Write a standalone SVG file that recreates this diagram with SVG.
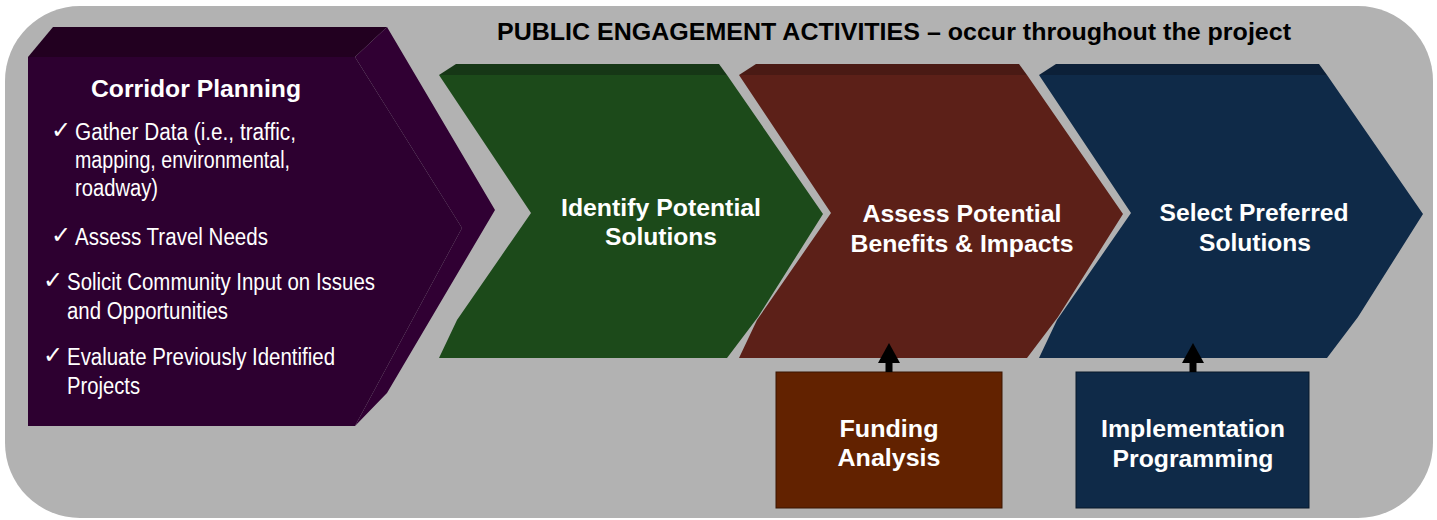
<svg xmlns="http://www.w3.org/2000/svg" width="1437" height="520" viewBox="0 0 1437 520">
<style>
.bold{font-family:"Liberation Sans",Arial,sans-serif;font-weight:bold;fill:#ffffff;font-size:24px}
.title{font-family:"Liberation Sans",Arial,sans-serif;font-weight:bold;fill:#000000;font-size:24px}
.reg{font-family:"Liberation Sans",Arial,sans-serif;fill:#ffffff;font-size:23px}
.chk{font-family:"DejaVu Sans",sans-serif;fill:#ffffff;font-size:24px}
</style>
<defs>
<marker id="head" markerUnits="userSpaceOnUse" markerWidth="20" markerHeight="22" viewBox="0 0 20 22" refX="0" refY="11" orient="auto">
<path d="M0,0 L20,11 L0,22 z" fill="#000000"/>
</marker>
</defs>
<rect x="5" y="6" width="1428" height="512" rx="75" ry="75" fill="#b2b2b2"/>
<text class="title" x="894" y="40" text-anchor="middle" textLength="794" lengthAdjust="spacingAndGlyphs">PUBLIC ENGAGEMENT ACTIVITIES – occur throughout the project</text>

<g id="corridor-planning">
<polygon points="28,57 53,27 387,27 355,57" fill="#220020"/>
<polygon points="355,57 387,27 495,210 387,393 355,426 462,228" fill="#300033"/>
<polygon points="28,57 355,57 462,228 355,426 28,426" fill="#2d0030"/>
<text class="bold" x="196" y="97" text-anchor="middle" font-size="23" textLength="210" lengthAdjust="spacingAndGlyphs">Corridor Planning</text>
<text class="chk" x="51" y="138">✓</text>
<text class="reg" x="75" y="140" textLength="221" lengthAdjust="spacingAndGlyphs">Gather Data (i.e., traffic,</text>
<text class="reg" x="75" y="168" textLength="215" lengthAdjust="spacingAndGlyphs">mapping, environmental,</text>
<text class="reg" x="75" y="196" textLength="83" lengthAdjust="spacingAndGlyphs">roadway)</text>
<text class="chk" x="51" y="243">✓</text>
<text class="reg" x="75" y="245" textLength="193" lengthAdjust="spacingAndGlyphs">Assess Travel Needs</text>
<text class="chk" x="43" y="288">✓</text>
<text class="reg" x="67" y="290" textLength="308" lengthAdjust="spacingAndGlyphs">Solicit Community Input on Issues</text>
<text class="reg" x="67" y="319" textLength="161" lengthAdjust="spacingAndGlyphs">and Opportunities</text>
<text class="chk" x="43" y="363">✓</text>
<text class="reg" x="67" y="365" textLength="268" lengthAdjust="spacingAndGlyphs">Evaluate Previously Identified</text>
<text class="reg" x="67" y="394" textLength="73" lengthAdjust="spacingAndGlyphs">Projects</text>
</g>

<g id="identify-solutions">
<polygon points="439,75 456,64 719,64 727,75" fill="#163716"/>
<polygon points="439,75 727,75 823,214 758,317 727,358 439,358 457,320 531,213" fill="#1c4a1a"/>
<text class="bold" x="661" y="216" text-anchor="middle" textLength="200" lengthAdjust="spacingAndGlyphs">Identify Potential</text>
<text class="bold" x="661" y="245" text-anchor="middle" textLength="112" lengthAdjust="spacingAndGlyphs">Solutions</text>
</g>

<g id="assess-impacts">
<polygon points="739,75 756,64 1019,64 1027,75" fill="#4a1a14"/>
<polygon points="739,75 1027,75 1123,214 1058,317 1027,358 739,358 757,320 831,213" fill="#5c2018"/>
<text class="bold" x="962" y="222" text-anchor="middle" textLength="199" lengthAdjust="spacingAndGlyphs">Assess Potential</text>
<text class="bold" x="962" y="252" text-anchor="middle" textLength="223" lengthAdjust="spacingAndGlyphs">Benefits &amp; Impacts</text>
</g>

<g id="select-solutions">
<polygon points="1039,75 1056,64 1319,64 1327,75" fill="#0c2038"/>
<polygon points="1039,75 1327,75 1423,214 1358,317 1327,358 1039,358 1057,320 1131,213" fill="#0f2a48"/>
<text class="bold" x="1254" y="221" text-anchor="middle" textLength="189" lengthAdjust="spacingAndGlyphs">Select Preferred</text>
<text class="bold" x="1255" y="251" text-anchor="middle" textLength="112" lengthAdjust="spacingAndGlyphs">Solutions</text>
</g>

<g id="funding-analysis">
<rect x="776" y="372" width="226" height="136" fill="#622200" stroke="#3a1400" stroke-width="1"/>
<text class="bold" x="889" y="437" text-anchor="middle" textLength="99" lengthAdjust="spacingAndGlyphs">Funding</text>
<text class="bold" x="889" y="466" text-anchor="middle" textLength="103" lengthAdjust="spacingAndGlyphs">Analysis</text>
</g>

<g id="implementation-programming">
<rect x="1076" y="372" width="233" height="136" fill="#0f2a48" stroke="#08182a" stroke-width="1"/>
<text class="bold" x="1193" y="437" text-anchor="middle" textLength="184" lengthAdjust="spacingAndGlyphs">Implementation</text>
<text class="bold" x="1193" y="467" text-anchor="middle" textLength="161" lengthAdjust="spacingAndGlyphs">Programming</text>
</g>

<g id="connectors">
<line x1="889" y1="372" x2="889" y2="363" stroke="#000000" stroke-width="7" marker-end="url(#head)"/>
<line x1="1193" y1="372" x2="1193" y2="363" stroke="#000000" stroke-width="7" marker-end="url(#head)"/>
</g>
</svg>
